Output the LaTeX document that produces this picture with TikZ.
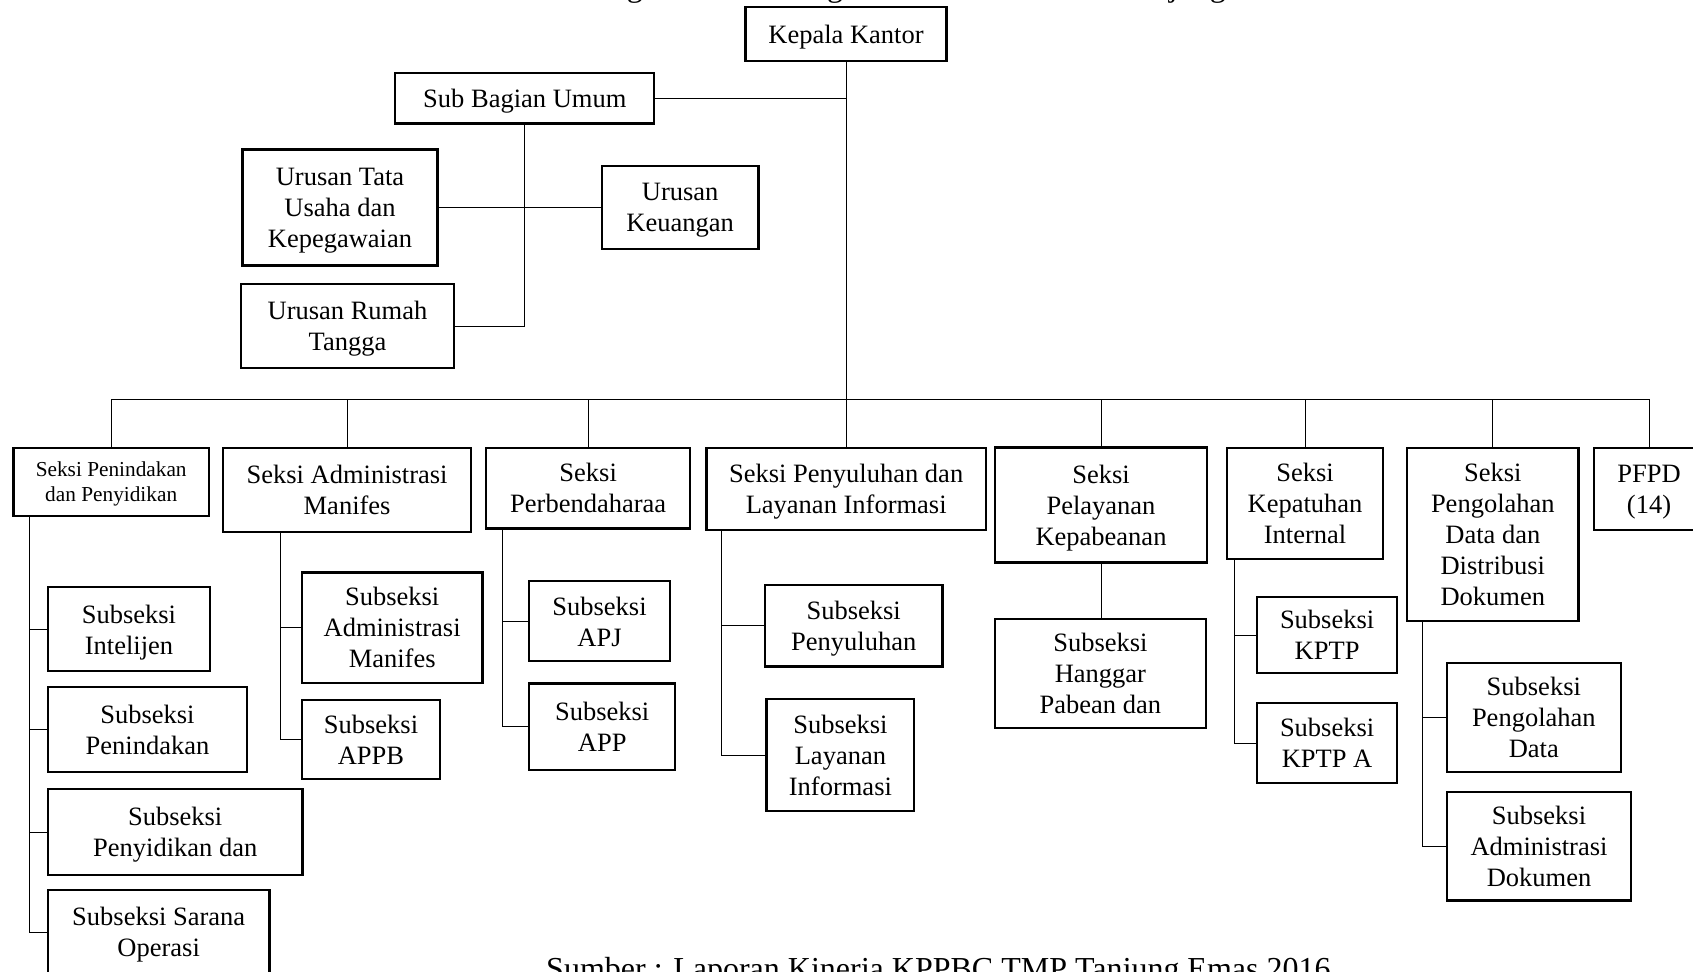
\documentclass[tikz,border=0pt]{standalone}
\usepackage{fontspec}
\setmainfont{Liberation Serif}
\begin{document}
\begin{tikzpicture}[x=1pt,y=-1pt,
  box/.style={draw, line width=2.2pt, inner sep=0pt, align=center, text depth=-2pt,
    font=\fontsize{26.5}{31}\selectfont},
  smallbox/.style={box, font=\fontsize{21.3}{25}\selectfont},
  conn/.style={draw, line width=1pt},
  caption/.style={anchor=base west, inner sep=0pt, font=\fontsize{32}{38}\selectfont}]
\useasboundingbox (0,0) rectangle (1693,971);
\clip (0,0) rectangle (1693,971);

% captions (cut by the picture edges)
\node[caption] (title) at (591.2,-3.6) {Bagan Struktur Organisasi KPPBC TMP Tanjung Emas};
\node[caption] (src) at (546,979.6) {Sumber : Laporan Kinerja KPPBC TMP Tanjung Emas 2016};

% top part
\node[box, minimum width=201pt, minimum height=54pt] (kk) at (846,34) {Kepala Kantor};
\node[box, minimum width=259pt, minimum height=50.5pt] (sbu) at (524.8,98.3) {Sub Bagian Umum};
\node[box, minimum width=195pt, minimum height=116pt] (tu) at (340,207.5) {Urusan Tata\\Usaha dan\\Kepegawaian};
\node[box, minimum width=156.5pt, minimum height=83pt] (keu) at (680.2,207.5) {Urusan\\Keuangan};
\node[box, minimum width=212.7pt, minimum height=84.6pt] (rt) at (347.5,326) {Urusan Rumah\\Tangga};

% seksi row
\node[smallbox, minimum width=195.3pt, minimum height=68.7pt] (s1) at (111.2,482) {Seksi Penindakan\\dan Penyidikan};
\node[box, minimum width=248.4pt, minimum height=84.2pt] (s2) at (347.1,489.7) {Seksi Administrasi\\Manifes};
\node[box, minimum width=203.7pt, minimum height=80.8pt] (s3) at (588.2,488) {Seksi\\Perbendaharaa};
\node[box, minimum width=279.6pt, minimum height=82.5pt] (s4) at (846.2,488.9) {Seksi Penyuluhan dan\\Layanan Informasi};
\node[box, minimum width=212.3pt, minimum height=115pt] (s5) at (1101,505) {Seksi\\Pelayanan\\Kepabeanan};
\node[box, minimum width=155.5pt, minimum height=111.5pt] (s6) at (1305,503.4) {Seksi\\Kepatuhan\\Internal};
\node[box, minimum width=171.2pt, minimum height=173.3pt] (s7) at (1492.8,534.3) {Seksi\\Pengolahan\\Data dan\\Distribusi\\Dokumen};
\node[box, minimum width=110pt, minimum height=82.5pt] (s8) at (1649,488.9) {PFPD\\(14)};

% subseksi
\node[box, minimum width=162.3pt, minimum height=84pt] (ss11) at (129,629.3) {Subseksi\\Intelijen};
\node[box, minimum width=199.3pt, minimum height=85pt] (ss12) at (147.5,729.5) {Subseksi\\Penindakan};
\node[box, minimum width=254.7pt, minimum height=86.4pt] (ss13) at (175.2,832) {Subseksi\\Penyidikan dan};
\node[box, minimum width=221.6pt, minimum height=84pt] (ss14) at (158.7,932) {Subseksi Sarana\\Operasi};

\node[box, minimum width=180.6pt, minimum height=110.5pt] (ss21) at (392.2,627.7) {Subseksi\\Administrasi\\Manifes};
\node[box, minimum width=138.2pt, minimum height=78.7pt] (ss22) at (371,739.5) {Subseksi\\APPB};

\node[box, minimum width=141pt, minimum height=80pt] (ss31) at (599.5,621.3) {Subseksi\\APJ};
\node[box, minimum width=146.2pt, minimum height=86.3pt] (ss32) at (602.2,726.7) {Subseksi\\APP};

\node[box, minimum width=177.4pt, minimum height=81.8pt] (ss41) at (853.7,625.5) {Subseksi\\Penyuluhan};
\node[box, minimum width=147.8pt, minimum height=112.5pt] (ss42) at (840.4,755) {Subseksi\\Layanan\\Informasi};

\node[box, minimum width=211.3pt, minimum height=108.8pt] (ss51) at (1100.4,673.4) {Subseksi\\Hanggar\\Pabean dan};

\node[box, minimum width=140.3pt, minimum height=76pt] (ss61) at (1327.1,635) {Subseksi\\KPTP};
\node[box, minimum width=140.3pt, minimum height=80.5pt] (ss62) at (1327.1,743.1) {Subseksi\\KPTP A};

\node[box, minimum width=173.6pt, minimum height=108.8pt] (ss71) at (1533.8,717.3) {Subseksi\\Pengolahan\\Data};
\node[box, minimum width=184.6pt, minimum height=108.4pt] (ss72) at (1539,846.2) {Subseksi\\Administrasi\\Dokumen};

% helper coordinates
\coordinate (bus) at (846,399);
\coordinate (t1) at (29.5,0);
\coordinate (t2) at (280.8,0);
\coordinate (t3) at (502.2,0);
\coordinate (t4) at (721.4,0);
\coordinate (t6) at (1234.8,0);
\coordinate (t7) at (1422.5,0);

% connectors: top part
\draw[conn] (kk.south) -- (kk.south |- bus);
\draw[conn] (sbu.east) -- (sbu.east -| kk.south);
\draw[conn] (sbu.south) -- (sbu.south |- rt.east) -- (rt.east);
\draw[conn] (tu.east) -- (keu.west);

% bus and stems
\draw[conn] (s1.north |- bus) -- (s8.north |- bus);
\foreach \s in {s1,s2,s3,s4,s5,s6,s7,s8}
  \draw[conn] (\s.north) -- (\s.north |- bus);

% group trunks
\draw[conn] (s1.south -| t1) |- (ss14.west);
\foreach \n in {ss11,ss12,ss13}
  \draw[conn] (\n.west) -- (\n.west -| t1);
\draw[conn] (s2.south -| t2) |- (ss22.west);
\draw[conn] (ss21.west) -- (ss21.west -| t2);
\draw[conn] (s3.south -| t3) |- (ss32.west);
\draw[conn] (ss31.west) -- (ss31.west -| t3);
\draw[conn] (s4.south -| t4) |- (ss42.west);
\draw[conn] (ss41.west) -- (ss41.west -| t4);
\draw[conn] (s5.south) -- (s5.south |- ss51.north);
\draw[conn] (s6.south -| t6) |- (ss62.west);
\draw[conn] (ss61.west) -- (ss61.west -| t6);
\draw[conn] (s7.south -| t7) |- (ss72.west);
\draw[conn] (ss71.west) -- (ss71.west -| t7);
\end{tikzpicture}
\end{document}
